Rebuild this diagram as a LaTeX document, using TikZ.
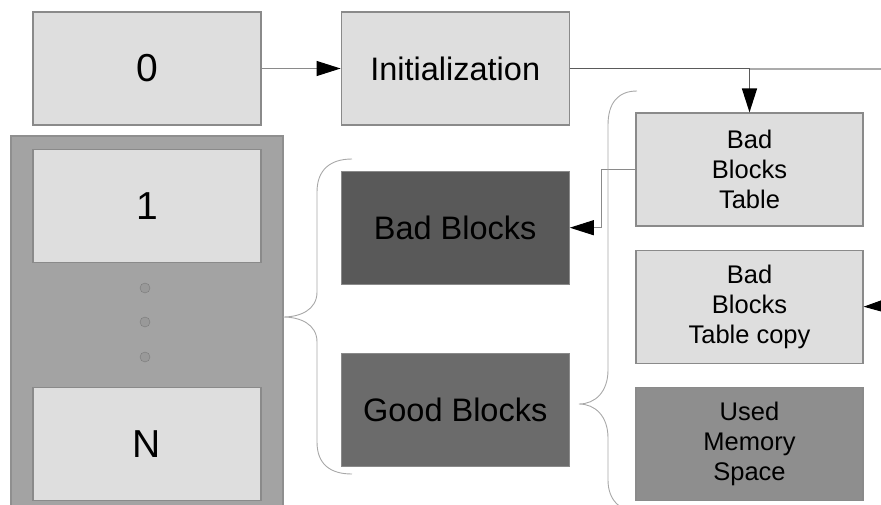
\documentclass[tikz,border=0pt]{standalone}
\usepackage{fontspec}
\setmainfont{Liberation Sans}
\usetikzlibrary{positioning, arrows.meta}
\definecolor{boxfill}{HTML}{DEDEDE}
\definecolor{boxline}{HTML}{8A8A8A}
\definecolor{chipfill}{HTML}{A3A3A3}
\definecolor{chipline}{HTML}{8F8F8F}
\definecolor{badfill}{HTML}{595959}
\definecolor{goodfill}{HTML}{6B6B6B}
\definecolor{usedfill}{HTML}{8E8E8E}
\definecolor{dotfill}{HTML}{999999}
\definecolor{dotline}{HTML}{7A7A7A}
\definecolor{linegray}{HTML}{8A8A8A}
\definecolor{darkline}{HTML}{5A5A5A}
\definecolor{lightline}{HTML}{ABABAB}
\definecolor{bracegray}{HTML}{A8A8A8}

\begin{document}
\begin{tikzpicture}[x=1pt, y=-1pt,
    blk/.style={draw=boxline, line width=1.2pt, fill=boxfill, minimum width=228pt,
      minimum height=113pt, inner sep=0pt, align=center},
    big/.style={blk, font=\fontsize{39}{45}\selectfont},
    mid/.style={blk, font=\fontsize{32.5}{38}\selectfont},
    small/.style={blk, minimum width=227pt, font=\fontsize{25.5}{30}\selectfont},
    link/.style={draw=linegray, line width=1pt, -{Triangle[length=24pt, width=15pt, color=black]}},
    brace/.style={draw=bracegray, line width=0.9pt},
    dot/.style={circle, draw=dotline, fill=dotfill, minimum size=10pt, inner sep=0pt}]
      \useasboundingbox (0,0) rectangle (881,504);

      \node[draw=chipline, fill=chipfill, line width=1.5pt, minimum width=272pt,
        minimum height=374pt, inner sep=0pt] (chip) at (147,323) {};

      \node[big] (zero) at (147,68.5) {0};
      \node[mid, right=79pt of zero] (init) {Initialization};

      \node[big, below=23pt of zero] (one) {1};
      \node[big, below=124pt of one] (n) {N};
      \foreach \y in {288,322,357}
        \node[dot] (d\y) at (145,\y) {};

      \node[mid, fill=badfill, below=45pt of init] (bad) {Bad Blocks};
      \node[mid, fill=goodfill, below=68pt of bad] (good) {Good Blocks};

      \node[small] (bbt) at (749.5,169.5) {Bad\\Blocks\\Table};
      \node[small, below=23pt of bbt] (copy) {Bad\\Blocks\\Table copy};
      \node[small, fill=usedfill, below=23pt of copy] (used) {Used\\Memory\\Space};

      \coordinate (out) at (881,68.5);
      \coordinate (back) at (881,306);

      \draw[link] (zero)--(init);
      \draw[link, draw=darkline, line width=1.5pt] (init.east) -| (bbt.north);
      \draw[lightline, line width=2pt] (bbt.north |- init.east)--(out);
      \draw[link] (bbt.west)--++(-34,0) |- (bad.east);
      \draw[link] (back)--(copy.east);

      \draw[brace] (352,159) .. controls (330,159) and (317,170) .. (317,192) -- (317,292)
        .. controls (317,310) and (300,317) .. (283,317)
        .. controls (300,317) and (317,324) .. (317,342) -- (317,442)
        .. controls (317,464) and (330,474) .. (352,474);
      \draw[brace] (637,91) .. controls (618,91) and (608,103) .. (608,125) -- (608,370)
        .. controls (608,392) and (595,404) .. (579,404)
        .. controls (595,404) and (608,416) .. (608,438) -- (608,480)
        .. controls (608,500) and (620,512) .. (640,512);
    \end{tikzpicture}
\end{document}
